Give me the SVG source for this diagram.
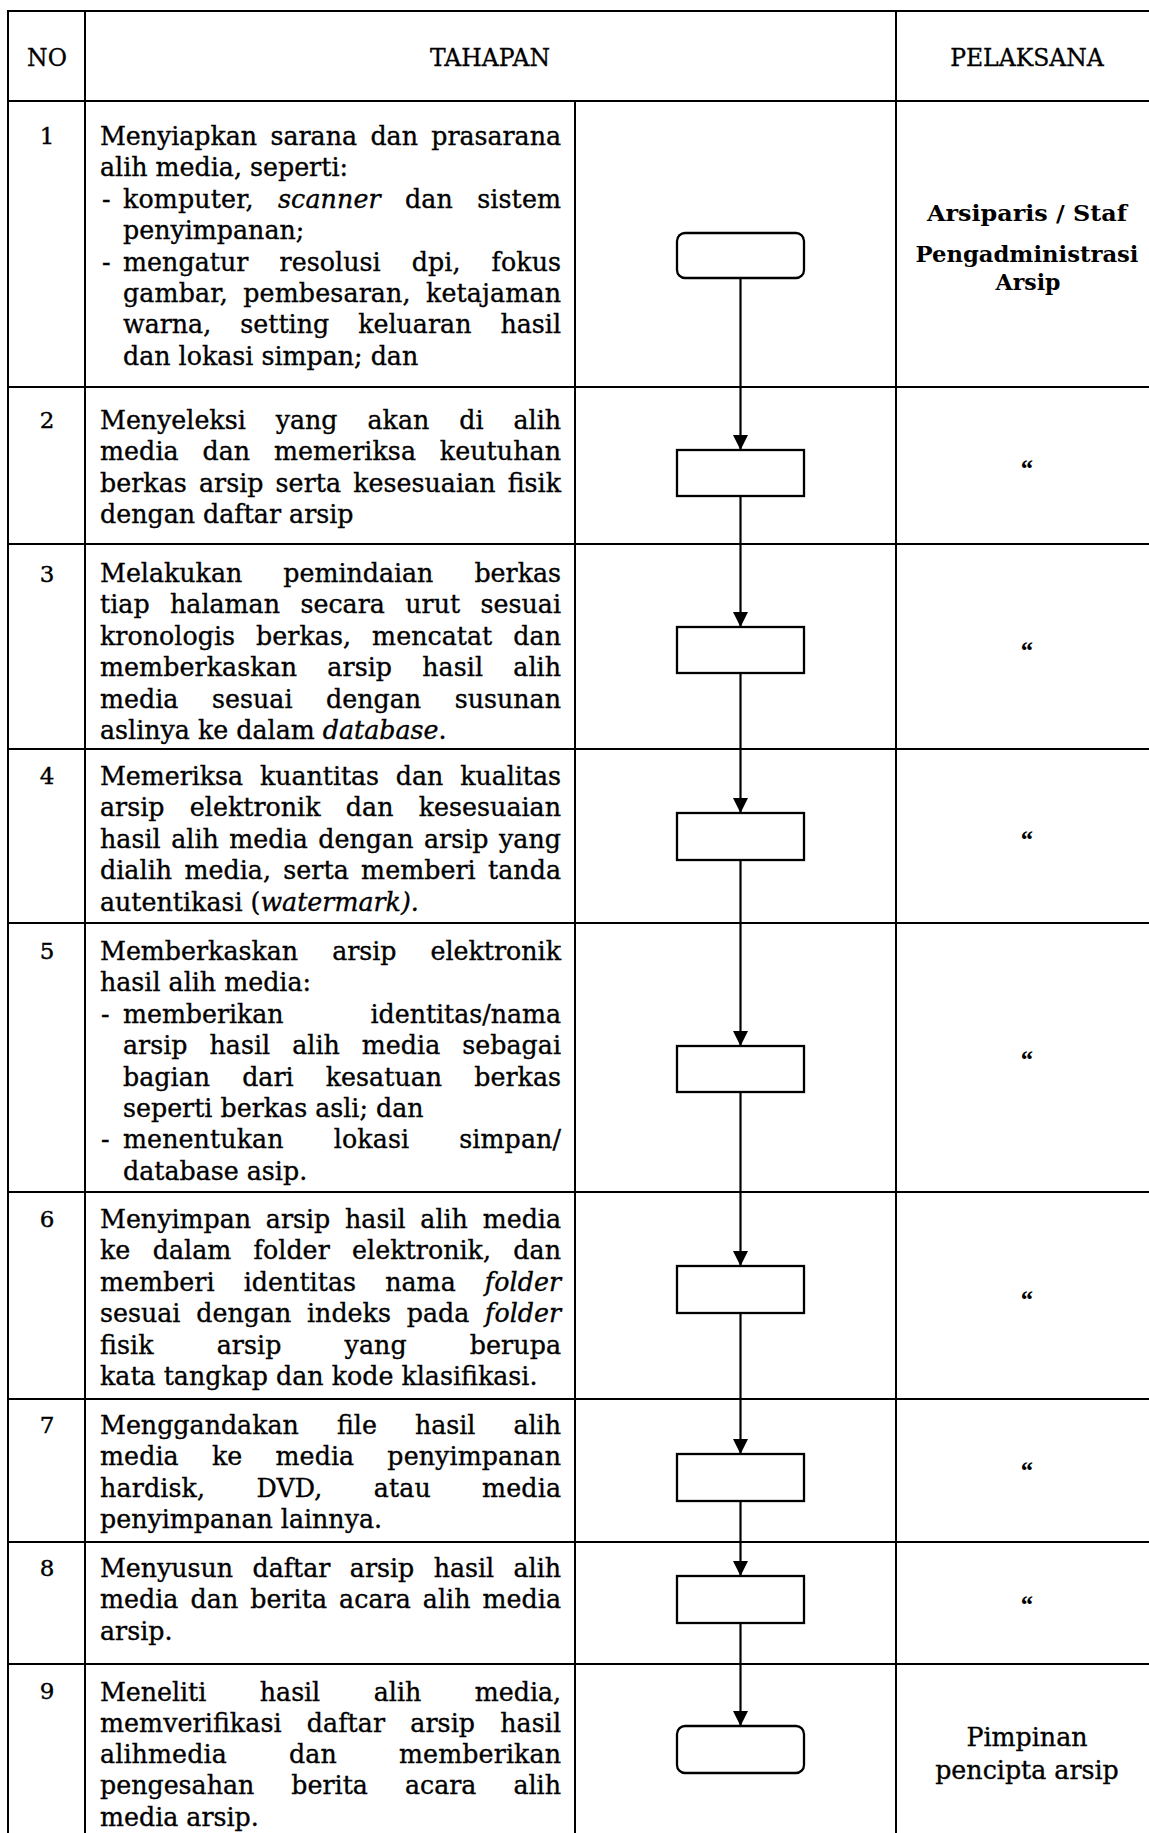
<svg xmlns="http://www.w3.org/2000/svg" width="1149" height="1833" viewBox="0 0 1149 1833">
<style>
.t{font-family:"DejaVu Serif","Liberation Serif",serif;font-size:25.3px;fill:#000;stroke:#000;stroke-width:0.35}
.i{font-style:italic}
.h{font-family:"DejaVu Serif","Liberation Serif",serif;font-size:23.5px;fill:#000;stroke:#000;stroke-width:0.3;text-anchor:middle}
.n{font-family:"DejaVu Serif","Liberation Serif",serif;font-size:23px;fill:#000;stroke:#000;stroke-width:0.4;text-anchor:middle}
.pc{text-anchor:middle}
.pb{font-family:"DejaVu Serif","Liberation Serif",serif;font-size:22px;font-weight:bold;fill:#000;text-anchor:middle}
.q{font-family:"Liberation Serif","DejaVu Serif",serif;font-size:26px;font-weight:bold;font-style:italic;fill:#000;text-anchor:middle}
.grid line{stroke:#000;stroke-width:2}
.box{fill:#fff;stroke:#000;stroke-width:2.3}
.conn line{stroke:#000;stroke-width:2.2;fill:none}
</style>
<defs>
<marker id="ah" markerUnits="userSpaceOnUse" markerWidth="15" markerHeight="16" refX="15" refY="7.5" orient="auto" viewBox="0 0 15 15">
<path d="M0,0 L15,7.5 L0,15 z" fill="#000"/>
</marker>
</defs>
<rect x="0" y="0" width="1149" height="1833" fill="#fff"/>

<g id="table" class="grid">
<line x1="7" y1="11" x2="1149" y2="11"/>
<line x1="7" y1="101" x2="1149" y2="101"/>
<line x1="7" y1="387" x2="1149" y2="387"/>
<line x1="7" y1="544" x2="1149" y2="544"/>
<line x1="7" y1="749" x2="1149" y2="749"/>
<line x1="7" y1="923" x2="1149" y2="923"/>
<line x1="7" y1="1192" x2="1149" y2="1192"/>
<line x1="7" y1="1399" x2="1149" y2="1399"/>
<line x1="7" y1="1542" x2="1149" y2="1542"/>
<line x1="7" y1="1664" x2="1149" y2="1664"/>
<line x1="8" y1="10" x2="8" y2="1833"/>
<line x1="85" y1="10" x2="85" y2="1833"/>
<line x1="575" y1="101" x2="575" y2="1833"/>
<line x1="896" y1="10" x2="896" y2="1833"/>
</g>

<g id="header">
<text class="h" x="47" y="66">NO</text>
<text class="h" x="490" y="66">TAHAPAN</text>
<text class="h" x="1027" y="66">PELAKSANA</text>
</g>

<g id="row1">
<text class="n" x="47" y="144">1</text>
<text class="t" x="100" y="145" word-spacing="5.5" textLength="461" lengthAdjust="spacing">Menyiapkan sarana dan prasarana</text>
<text class="t" x="100" y="176.4">alih media, seperti:</text>
<text class="t" x="102" y="207.8">-</text>
<text class="t" x="123" y="207.8" word-spacing="16" textLength="438" lengthAdjust="spacing">komputer, <tspan class="i">scanner</tspan> dan sistem</text>
<text class="t" x="123" y="239.2">penyimpanan;</text>
<text class="t" x="102" y="270.6">-</text>
<text class="t" x="123" y="270.6" word-spacing="23" textLength="438" lengthAdjust="spacing">mengatur resolusi dpi, fokus</text>
<text class="t" x="123" y="302" word-spacing="7" textLength="438" lengthAdjust="spacing">gambar, pembesaran, ketajaman</text>
<text class="t" x="123" y="333.4" word-spacing="21" textLength="438" lengthAdjust="spacing">warna, setting keluaran hasil</text>
<text class="t" x="123" y="364.8">dan lokasi simpan; dan</text>
<text class="pb" x="1027" y="221" textLength="200" lengthAdjust="spacingAndGlyphs">Arsiparis / Staf</text>
<text class="pb" x="1027" y="262" textLength="223" lengthAdjust="spacingAndGlyphs">Pengadministrasi</text>
<text class="pb" x="1028" y="290">Arsip</text>
</g>

<g id="row2">
<text class="n" x="47" y="428">2</text>
<text class="t" x="100" y="429" word-spacing="22" textLength="461" lengthAdjust="spacing">Menyeleksi yang akan di alih</text>
<text class="t" x="100" y="460.4" word-spacing="15.6" textLength="461" lengthAdjust="spacing">media dan memeriksa keutuhan</text>
<text class="t" x="100" y="491.8" word-spacing="4" textLength="461" lengthAdjust="spacing">berkas arsip serta kesesuaian fisik</text>
<text class="t" x="100" y="523.2">dengan daftar arsip</text>
<text class="q" x="1026" y="477">“</text>
</g>

<g id="row3">
<text class="n" x="47" y="582">3</text>
<text class="t" x="100" y="582" word-spacing="33" textLength="461" lengthAdjust="spacing">Melakukan pemindaian berkas</text>
<text class="t" x="100" y="613.4" word-spacing="12.3" textLength="461" lengthAdjust="spacing">tiap halaman secara urut sesuai</text>
<text class="t" x="100" y="644.8" word-spacing="13" textLength="461" lengthAdjust="spacing">kronologis berkas, mencatat dan</text>
<text class="t" x="100" y="676.2" word-spacing="22" textLength="461" lengthAdjust="spacing">memberkaskan arsip hasil alih</text>
<text class="t" x="100" y="707.6" word-spacing="25.4" textLength="461" lengthAdjust="spacing">media sesuai dengan susunan</text>
<text class="t" x="100" y="739">aslinya ke dalam <tspan class="i">database</tspan>.</text>
<text class="q" x="1026" y="659">“</text>
</g>

<g id="row4">
<text class="n" x="47" y="784">4</text>
<text class="t" x="100" y="785" word-spacing="8.8" textLength="461" lengthAdjust="spacing">Memeriksa kuantitas dan kualitas</text>
<text class="t" x="100" y="816.4" word-spacing="17.2" textLength="461" lengthAdjust="spacing">arsip elektronik dan kesesuaian</text>
<text class="t" x="100" y="847.8" word-spacing="2.4" textLength="461" lengthAdjust="spacing">hasil alih media dengan arsip yang</text>
<text class="t" x="100" y="879.2" word-spacing="4.2" textLength="461" lengthAdjust="spacing">dialih media, serta memberi tanda</text>
<text class="t" x="100" y="910.6">autentikasi (<tspan class="i">watermark).</tspan></text>
<text class="q" x="1026" y="848">“</text>
</g>

<g id="row5">
<text class="n" x="47" y="959">5</text>
<text class="t" x="100" y="960" word-spacing="26" textLength="461" lengthAdjust="spacing">Memberkaskan arsip elektronik</text>
<text class="t" x="100" y="991.4">hasil alih media:</text>
<text class="t" x="101" y="1022.8">-</text>
<text class="t" x="123" y="1022.8" word-spacing="79" textLength="438" lengthAdjust="spacing">memberikan identitas/nama</text>
<text class="t" x="123" y="1054.2" word-spacing="13.9" textLength="438" lengthAdjust="spacing">arsip hasil alih media sebagai</text>
<text class="t" x="123" y="1085.6" word-spacing="24" textLength="438" lengthAdjust="spacing">bagian dari kesatuan berkas</text>
<text class="t" x="123" y="1117">seperti berkas asli; dan</text>
<text class="t" x="101" y="1148.4">-</text>
<text class="t" x="123" y="1148.4" word-spacing="42" textLength="438" lengthAdjust="spacing">menentukan lokasi simpan/</text>
<text class="t" x="123" y="1179.8">database asip.</text>
<text class="q" x="1026" y="1068">“</text>
</g>

<g id="row6">
<text class="n" x="47" y="1227">6</text>
<text class="t" x="100" y="1228" word-spacing="6.8" textLength="461" lengthAdjust="spacing">Menyimpan arsip hasil alih media</text>
<text class="t" x="100" y="1259.4" word-spacing="14.2" textLength="461" lengthAdjust="spacing">ke dalam folder elektronik, dan</text>
<text class="t" x="100" y="1290.8" word-spacing="21" textLength="461" lengthAdjust="spacing">memberi identitas nama <tspan class="i">folder</tspan></text>
<text class="t" x="100" y="1322.2" word-spacing="7.7" textLength="461" lengthAdjust="spacing">sesuai dengan indeks pada <tspan class="i">folder</tspan></text>
<text class="t" x="100" y="1353.6" word-spacing="55" textLength="461" lengthAdjust="spacing">fisik arsip yang berupa</text>
<text class="t" x="100" y="1385">kata tangkap dan kode klasifikasi.</text>
<text class="q" x="1026" y="1308">“</text>
</g>

<g id="row7">
<text class="n" x="47" y="1433">7</text>
<text class="t" x="100" y="1434" word-spacing="30" textLength="461" lengthAdjust="spacing">Menggandakan file hasil alih</text>
<text class="t" x="100" y="1465.4" word-spacing="25" textLength="461" lengthAdjust="spacing">media ke media penyimpanan</text>
<text class="t" x="100" y="1496.8" word-spacing="43" textLength="461" lengthAdjust="spacing">hardisk, DVD, atau media</text>
<text class="t" x="100" y="1528.2">penyimpanan lainnya.</text>
<text class="q" x="1026" y="1479">“</text>
</g>

<g id="row8">
<text class="n" x="47" y="1576">8</text>
<text class="t" x="100" y="1577" word-spacing="11.6" textLength="461" lengthAdjust="spacing">Menyusun daftar arsip hasil alih</text>
<text class="t" x="100" y="1608.4" word-spacing="4" textLength="461" lengthAdjust="spacing">media dan berita acara alih media</text>
<text class="t" x="100" y="1639.8">arsip.</text>
<text class="q" x="1026" y="1613">“</text>
</g>

<g id="row9">
<text class="n" x="47" y="1699">9</text>
<text class="t" x="100" y="1700.5" word-spacing="45.7" textLength="461" lengthAdjust="spacing">Meneliti hasil alih media,</text>
<text class="t" x="100" y="1731.8" word-spacing="17" textLength="461" lengthAdjust="spacing">memverifikasi daftar arsip hasil</text>
<text class="t" x="100" y="1763.1" word-spacing="54" textLength="461" lengthAdjust="spacing">alihmedia dan memberikan</text>
<text class="t" x="100" y="1794.4" word-spacing="29" textLength="461" lengthAdjust="spacing">pengesahan berita acara alih</text>
<text class="t" x="100" y="1825.6">media arsip.</text>
<text class="t pc" x="1027" y="1746">Pimpinan</text>
<text class="t pc" x="1027" y="1778.5">pencipta arsip</text>
</g>

<g id="connectors" class="conn">
<line x1="740.5" y1="278" x2="740.5" y2="450" marker-end="url(#ah)"/>
<line x1="740.5" y1="496" x2="740.5" y2="627" marker-end="url(#ah)"/>
<line x1="740.5" y1="673" x2="740.5" y2="813" marker-end="url(#ah)"/>
<line x1="740.5" y1="860" x2="740.5" y2="1046" marker-end="url(#ah)"/>
<line x1="740.5" y1="1092" x2="740.5" y2="1266" marker-end="url(#ah)"/>
<line x1="740.5" y1="1313" x2="740.5" y2="1454" marker-end="url(#ah)"/>
<line x1="740.5" y1="1501" x2="740.5" y2="1576" marker-end="url(#ah)"/>
<line x1="740.5" y1="1623" x2="740.5" y2="1726" marker-end="url(#ah)"/>
</g>

<g id="node1"><rect class="box" x="677" y="233" width="127" height="45" rx="8"/></g>
<g id="node2"><rect class="box" x="677" y="450" width="127" height="46"/></g>
<g id="node3"><rect class="box" x="677" y="627" width="127" height="46"/></g>
<g id="node4"><rect class="box" x="677" y="813" width="127" height="47"/></g>
<g id="node5"><rect class="box" x="677" y="1046" width="127" height="46"/></g>
<g id="node6"><rect class="box" x="677" y="1266" width="127" height="47"/></g>
<g id="node7"><rect class="box" x="677" y="1454" width="127" height="47"/></g>
<g id="node8"><rect class="box" x="677" y="1576" width="127" height="47"/></g>
<g id="node9"><rect class="box" x="677" y="1726" width="127" height="47" rx="8"/></g>
</svg>
